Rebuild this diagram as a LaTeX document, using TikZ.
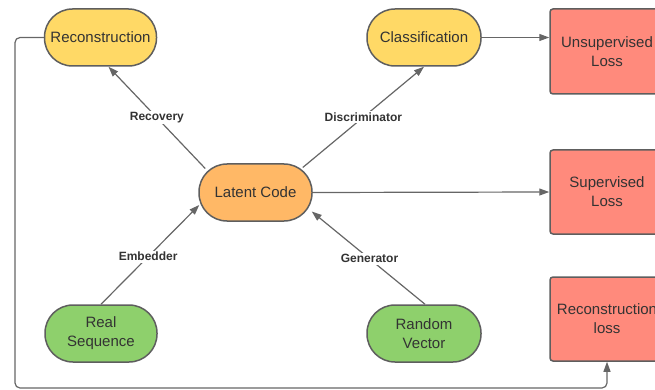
\documentclass[tikz,border=0pt]{standalone}
\usepackage{fontspec}
\setmainfont{Liberation Sans}
\usetikzlibrary{arrows.meta,calc}
\definecolor{cyel}{HTML}{FFD966}
\definecolor{corg}{HTML}{FFB866}
\definecolor{cgrn}{HTML}{8ED06C}
\definecolor{cred}{HTML}{FF8A7C}
\definecolor{cline}{HTML}{5E5E5E}
\definecolor{carr}{HTML}{666666}
\definecolor{ctext}{HTML}{333333}
\newcommand{\nodefont}{\fontsize{15}{19}\selectfont}
\newcommand{\lblfont}{\fontsize{12}{14}\selectfont\bfseries}
\begin{document}
\begin{tikzpicture}[x=1pt,y=-1pt,
  pill/.style={draw=cline, line width=1.5pt, rounded corners=28pt,
    minimum width=112pt, minimum height=57pt, inner sep=0pt,
    align=center, font=\nodefont, text=ctext},
  lossbox/.style={draw=cline, line width=1.5pt, rounded corners=3pt,
    fill=cred, minimum width=114pt, minimum height=84pt, inner sep=0pt,
    align=center, font=\nodefont, text=ctext},
  arr/.style={draw=carr, line width=1.2pt, -{Triangle[length=10pt,width=7pt]}},
  lbl/.style={fill=white, font=\lblfont, text=ctext, inner sep=1.5pt}]
\useasboundingbox (0,0) rectangle (655,390);
\node[pill, fill=cyel] (rec) at (100.5,37.5) {Reconstruction};
\node[pill, fill=cyel, minimum width=114pt] (cls) at (424,37.5) {Classification};
\node[pill, fill=corg, minimum width=113pt] (lc) at (255.5,192.5) {Latent Code};
\node[pill, fill=cgrn] (rs) at (101,333.5) {Real\\Sequence};
\node[pill, fill=cgrn, minimum width=114pt] (rv) at (424,333.5) {Random\\Vector};
\node[lossbox, minimum height=85pt] (ul) at (607,51.5) {Unsupervised\\Loss};
\node[lossbox] (sl) at (607,192) {Supervised\\Loss};
\node[lossbox] (rl) at (607,319) {Reconstruction\\loss};

\draw[arr] ($(lc.west)+(7,-24)$) -- node[lbl]{Recovery} ($(rec.south)+(8,0)$);
\draw[arr] ($(lc.east)+(-10,-25)$) -- node[lbl]{Discriminator} (cls.south);
\draw[arr] (rs.north) -- node[lbl, pos=0.48]{Embedder} ($(lc.west)+(1,12.5)$);
\draw[arr] ($(rv.north)+(1,0)$) -- node[lbl, pos=0.49]{Generator} ($(lc.east)+(-1,19)$);
\draw[arr] (lc.east) -- (sl.west);
\draw[arr] (cls.east) -- (cls.east -| ul.west);
\coordinate (bl) at (15,388);
\draw[arr, rounded corners=5pt] (rec.west) -- (rec.west -| bl) -- (bl) -| (rl.south);
\end{tikzpicture}
\end{document}
